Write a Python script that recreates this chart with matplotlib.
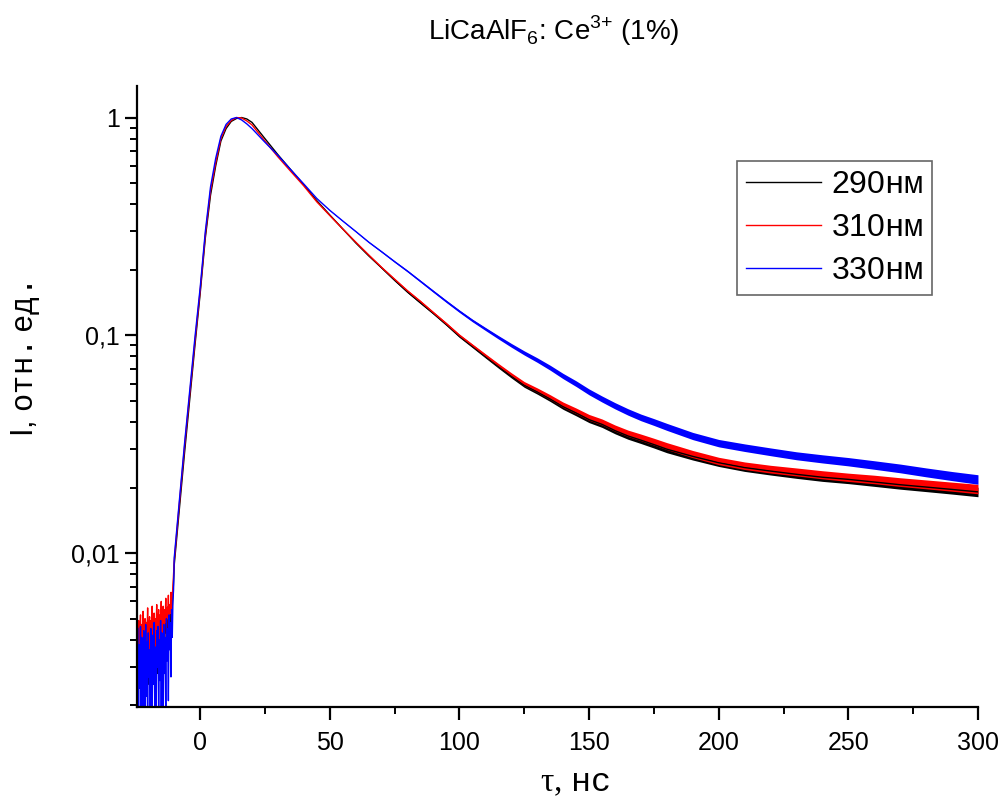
import matplotlib
matplotlib.use("Agg")
import numpy as np
import matplotlib.pyplot as plt
from matplotlib.ticker import FixedLocator, FixedFormatter, MultipleLocator

plt.rcParams['font.family'] = ['Liberation Sans', 'DejaVu Sans']
plt.rcParams['mathtext.fontset'] = 'custom'
plt.rcParams['mathtext.rm'] = 'Liberation Serif'
plt.rcParams['mathtext.sf'] = 'Liberation Sans'
plt.rcParams['mathtext.tt'] = 'Liberation Mono'

# pre-trigger baseline (noisy), sampled every 0.25 ns from -24 ns
tau_base = list(np.arange(-24.0, -10.1, 0.25))
black_base = [0.0033, 0.0042, 0.0024, 0.0039, 0.0046, 0.0027, 0.0041, 0.0034, 0.0047, 0.0022,
              0.0040, 0.0044, 0.0029, 0.0043, 0.0036, 0.0049, 0.0025, 0.0041, 0.0045, 0.0031,
              0.0044, 0.0037, 0.0050, 0.0026, 0.0042, 0.0047, 0.0033, 0.0045, 0.0039, 0.0051,
              0.0028, 0.0044, 0.0048, 0.0035, 0.0046, 0.0041, 0.0053, 0.0031, 0.0045, 0.0050,
              0.0037, 0.0049, 0.0043, 0.0055, 0.0034, 0.0050, 0.0045, 0.0057, 0.0040, 0.0052,
              0.0048, 0.0059, 0.0044, 0.0057, 0.0064, 0.0074]
red_base = [0.0036, 0.0049, 0.0028, 0.0044, 0.0052, 0.0031, 0.0047, 0.0038, 0.0054, 0.0026,
            0.0045, 0.0050, 0.0033, 0.0048, 0.0040, 0.0056, 0.0029, 0.0046, 0.0051, 0.0035,
            0.0049, 0.0042, 0.0057, 0.0030, 0.0047, 0.0053, 0.0037, 0.0050, 0.0044, 0.0058,
            0.0032, 0.0049, 0.0055, 0.0039, 0.0052, 0.0046, 0.0060, 0.0035, 0.0051, 0.0057,
            0.0041, 0.0055, 0.0048, 0.0062, 0.0038, 0.0056, 0.0050, 0.0064, 0.0044, 0.0058,
            0.0053, 0.0066, 0.0049, 0.0063, 0.0070, 0.0080]
blue_base = [0.0045, 0.0017, 0.0038, 0.0024, 0.0046, 0.0015, 0.0041, 0.0029, 0.0019, 0.0044,
             0.0033, 0.0016, 0.0047, 0.0022, 0.0039, 0.0015, 0.0043, 0.0027, 0.0036, 0.0018,
             0.0045, 0.0031, 0.0016, 0.0042, 0.0025, 0.0048, 0.0020, 0.0037, 0.0015, 0.0044,
             0.0030, 0.0046, 0.0017, 0.0040, 0.0026, 0.0049, 0.0019, 0.0043, 0.0034, 0.0016,
             0.0047, 0.0028, 0.0041, 0.0018, 0.0050, 0.0032, 0.0045, 0.0021, 0.0052, 0.0036,
             0.0048, 0.0027, 0.0055, 0.0041, 0.0060, 0.0068]

# rise + decay, ns
tau = [-10, -8, -6, -4, -2, 0, 2, 4, 6, 8, 10, 12, 14, 16, 18, 20,
       25, 30, 35, 40, 45, 50, 55, 60, 65, 70, 75, 80, 85, 90, 95, 100,
       105, 110, 115, 120, 125, 130, 135, 140, 145, 150, 155, 160, 165, 170, 175, 180,
       190, 200, 210, 220, 230, 240, 250, 260, 270, 280, 290, 300]
i_290 = [0.0088, 0.0160, 0.029, 0.051, 0.090, 0.155, 0.28, 0.44, 0.60, 0.78, 0.89, 0.96, 0.99, 1.0, 0.985, 0.95,
         0.80, 0.675, 0.575, 0.49, 0.415, 0.357, 0.308, 0.266, 0.232, 0.204, 0.179, 0.158, 0.141, 0.126, 0.112, 0.099,
         0.089, 0.080, 0.072, 0.065, 0.059, 0.055, 0.051, 0.047, 0.044, 0.041, 0.039, 0.0365, 0.0345, 0.033, 0.0315, 0.030,
         0.0278, 0.026, 0.0247, 0.0238, 0.023, 0.0223, 0.0218, 0.0212, 0.0206, 0.0201, 0.0196, 0.0191]
i_310 = [0.0092, 0.0170, 0.031, 0.054, 0.094, 0.16, 0.29, 0.46, 0.62, 0.80, 0.91, 0.97, 1.0, 0.995, 0.965, 0.925,
         0.78, 0.66, 0.565, 0.485, 0.41, 0.355, 0.308, 0.268, 0.234, 0.205, 0.181, 0.160, 0.143, 0.127, 0.113, 0.100,
         0.090, 0.081, 0.073, 0.066, 0.060, 0.056, 0.052, 0.048, 0.045, 0.042, 0.040, 0.0375, 0.0355, 0.034, 0.0325, 0.031,
         0.0285, 0.0265, 0.0252, 0.0243, 0.0236, 0.0229, 0.0223, 0.0218, 0.0212, 0.0207, 0.0202, 0.0197]
i_330 = [0.0095, 0.0175, 0.032, 0.056, 0.098, 0.165, 0.30, 0.48, 0.65, 0.82, 0.93, 0.985, 1.0, 0.975, 0.935, 0.89,
         0.77, 0.67, 0.575, 0.495, 0.425, 0.375, 0.335, 0.30, 0.268, 0.242, 0.218, 0.197, 0.177, 0.159, 0.143, 0.129,
         0.117, 0.107, 0.098, 0.090, 0.083, 0.077, 0.071, 0.065, 0.060, 0.055, 0.051, 0.0475, 0.0445, 0.042, 0.040, 0.038,
         0.0345, 0.032, 0.0305, 0.0292, 0.028, 0.0271, 0.0263, 0.0254, 0.0245, 0.0235, 0.0226, 0.0218]
# relative scatter of the noisy tail (half-width)
noise = [0] * 21 + [0.003, 0.004, 0.005, 0.006, 0.007, 0.008, 0.009, 0.010, 0.011, 0.012, 0.013,
                    0.014, 0.016, 0.018, 0.020, 0.022, 0.024, 0.026, 0.028, 0.030, 0.031, 0.032, 0.033,
                    0.034, 0.035, 0.036, 0.037,
                    0.038, 0.039, 0.040, 0.041, 0.042, 0.043, 0.044, 0.045, 0.046, 0.047, 0.048, 0.050]

series = [("290", "black", black_base, i_290),
          ("310", "red", red_base, i_310),
          ("330", "blue", blue_base, i_330)]

fig = plt.figure(figsize=(10.01, 8.0), dpi=100)
ax = fig.add_axes([0.137, 0.116, 0.840, 0.776])

t = np.array(tau, dtype=float)
nz = np.array(noise)
for name, col, base, vals in series:
    v = np.array(vals)
    ax.fill_between(t, v * (1 - nz), v * (1 + nz), color=col, lw=0)
    ax.plot(tau_base + tau, base + vals, color=col, lw=1.0,
            label=name + r"$\mathtt{нм}$")

ax.set_yscale("log")
ax.set_xlim(-24.3, 300)
ax.set_ylim(0.00196, 1.39)

ax.xaxis.set_major_locator(MultipleLocator(50))
ax.xaxis.set_minor_locator(MultipleLocator(25))
ax.yaxis.set_major_locator(FixedLocator([0.01, 0.1, 1]))
ax.yaxis.set_major_formatter(FixedFormatter(["0,01", "0,1", "1"]))
minors = [m * d for d in (0.001, 0.01, 0.1) for m in range(2, 10)]
ax.yaxis.set_minor_locator(FixedLocator(minors))
ax.yaxis.set_minor_formatter(FixedFormatter([""] * len(minors)))

for s in ("top", "right"):
    ax.spines[s].set_visible(False)
for s in ("left", "bottom"):
    ax.spines[s].set_linewidth(1.6)
ax.tick_params(which="major", length=9, width=1.6, labelsize=18, direction="out")
ax.tick_params(which="minor", length=5, width=1.4, direction="out")
ax.tick_params(axis="x", pad=8)

ax.set_xlabel(r"τ, $\mathtt{нс}$", fontsize=24, family="Liberation Serif")
ax.xaxis.set_label_coords(0.52, -0.097)
ax.set_ylabel(r"I, $\mathtt{отн.ед.}$", fontsize=22)
ax.yaxis.set_label_coords(-0.113, 0.56)
fig.text(0.553, 0.962, r"LiCaAlF$_{\mathsf{6}}$: Ce$^{\mathsf{3{+}}}$ (1%)",
         fontsize=20, ha="center", va="center")

leg = ax.legend(loc="upper right", bbox_to_anchor=(0.9453, 0.8794), borderaxespad=0,
                fontsize=23, handlelength=2.35, handletextpad=0.3, labelspacing=0.4,
                borderpad=0.28, fancybox=False, framealpha=1)
leg.get_frame().set_edgecolor("#666666")
leg.get_frame().set_linewidth(1.2)

fig.savefig("out.png", dpi=100)
